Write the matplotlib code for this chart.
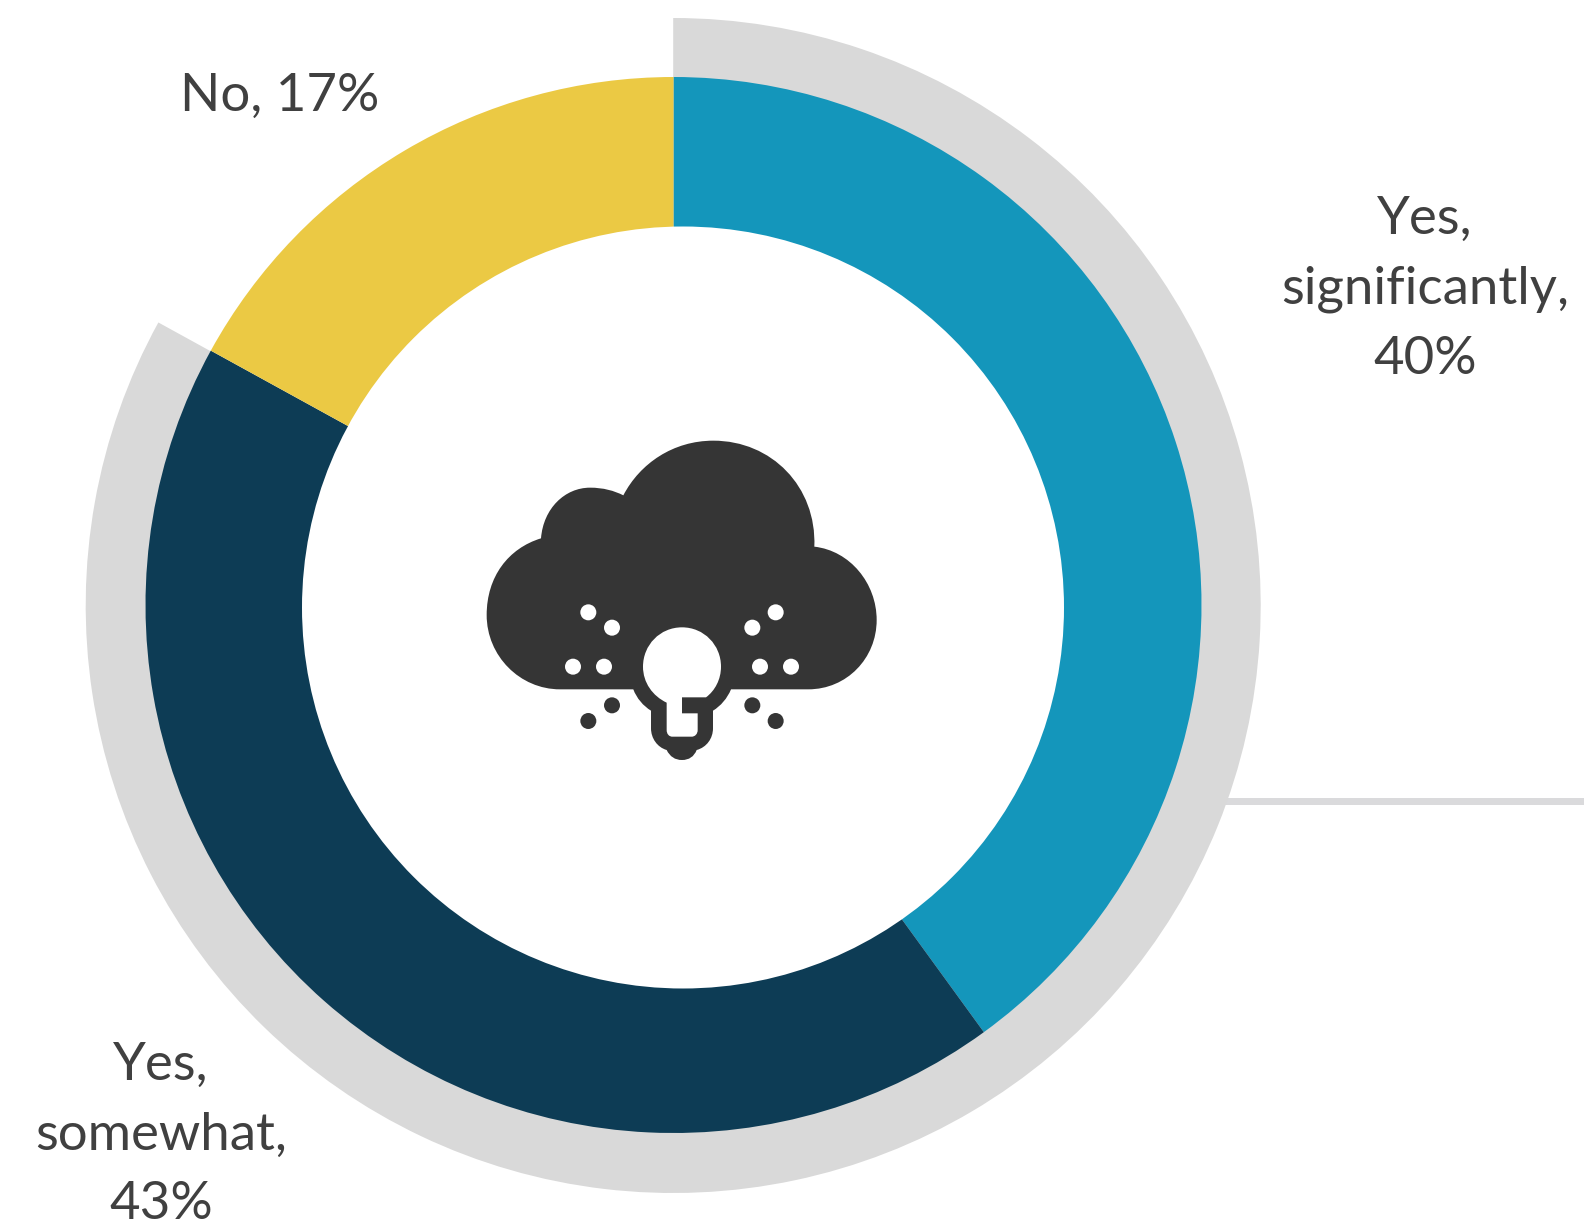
import matplotlib
matplotlib.use("Agg")
import matplotlib.pyplot as plt
from matplotlib.patches import Circle, PathPatch, Rectangle
from matplotlib.path import Path

W, H = 1584, 1224

categories = ["Yes,\nsignificantly", "Yes,\nsomewhat", "No"]
values = [40, 43, 17]
colors = ["#1496bb", "#0d3c55", "#ebc944"]
label_pos = [(1425, 289), (161, 1135), (280, 96)]

DARK = "#353535"
GRAY = "#d9d9d9"


def icon_xy(x, y):
    return 470 + x / 3, H - (420 + y / 3)


def curve_path(start, segments):
    verts = [icon_xy(*start)]
    codes = [Path.MOVETO]
    for seg in segments:
        if len(seg) == 1:
            verts.append(icon_xy(*seg[0]))
            codes.append(Path.LINETO)
        else:
            verts += [icon_xy(*p) for p in seg]
            codes += [Path.CURVE4] * 3
    verts.append(verts[0])
    codes.append(Path.CLOSEPOLY)
    return Path(verts, codes)


cloud = curve_path((270, 808), [
    ((150, 808), (50, 708), (50, 585)),
    ((50, 470), (115, 385), (213, 355)),
    ((220, 265), (285, 203), (360, 203)),
    ((400, 203), (432, 212), (460, 226)),
    ((510, 130), (610, 62), (730, 62)),
    ((905, 62), (1040, 200), (1033, 380)),
    ((1140, 392), (1220, 490), (1220, 600)),
    ((1220, 715), (1130, 808), (1015, 808)),
])

bulb_base = curve_path((490, 808), [
    ((500, 835), (520, 858), (543, 872)),
    ((543, 925),),
    ((543, 955), (562, 982), (590, 990)),
    ((600, 1010), (615, 1020), (636, 1020)),
    ((657, 1020), (672, 1010), (680, 990)),
    ((710, 982), (729, 955), (729, 925)),
    ((729, 872),),
    ((752, 858), (772, 835), (783, 808)),
    ((783, 700),),
    ((490, 700),),
])

bulb_white = curve_path((590, 848), [
    ((548, 828), (519, 788), (519, 740)),
    ((519, 675), (570, 622), (636, 622)),
    ((702, 622), (753, 675), (753, 740)),
    ((753, 778), (735, 812), (708, 832)),
    ((636, 832),),
    ((636, 880),),
    ((683, 880),),
    ((683, 930),),
    ((683, 942), (675, 950), (665, 950)),
    ((607, 950),),
    ((597, 950), (590, 942), (590, 930)),
])

white_dots = [(355, 577), (426, 623), (309, 740), (402, 740),
              (847, 623), (917, 577), (870, 740), (963, 740)]
dark_dots = [(426, 856), (355, 903), (847, 856), (917, 903)]

fig = plt.figure(figsize=(W / 100, H / 100), dpi=100)
ax = fig.add_axes([0, 0, 1, 1])

center = (673.5, H - 605)

# thin rule behind the ring
ax.add_patch(Rectangle((1100, H - 805), W - 1100, 7, color="#dadadc", lw=0, zorder=0))

# gray ring only spans the two "Yes" answers
ax.pie([values[0] + values[1], values[2]], colors=[GRAY, "none"], radius=587.5,
       center=(673.2, H - 605.5), startangle=90, counterclock=False,
       wedgeprops={"linewidth": 0}, frame=True)
ax.pie(values, colors=colors, radius=528, center=center, startangle=90,
       counterclock=False, wedgeprops={"linewidth": 0}, frame=True)

# hole is not quite concentric with the pie
ax.add_patch(Circle((683, H - 607.5), 381, color="white", lw=0, zorder=5))

ax.add_patch(PathPatch(cloud, color=DARK, lw=0, zorder=6))
ax.add_patch(PathPatch(bulb_base, color=DARK, lw=0, zorder=6))
ax.add_patch(PathPatch(bulb_white, color="white", lw=0, zorder=7))
for x, y in white_dots:
    ax.add_patch(Circle(icon_xy(x, y), 8, color="white", lw=0, zorder=7))
for x, y in dark_dots:
    ax.add_patch(Circle(icon_xy(x, y), 8, color=DARK, lw=0, zorder=7))

for cat, val, (x, y) in zip(categories, values, label_pos):
    sep = ", " if "\n" not in cat else ",\n"
    ax.text(x, H - y, f"{cat}{sep}{val}%", ha="center", va="center", fontsize=38,
            family="Lato", color="#404040", linespacing=1.6, zorder=8)

ax.set_xlim(0, W)
ax.set_ylim(0, H)
ax.axis("off")

fig.savefig("out.png", dpi=100)
